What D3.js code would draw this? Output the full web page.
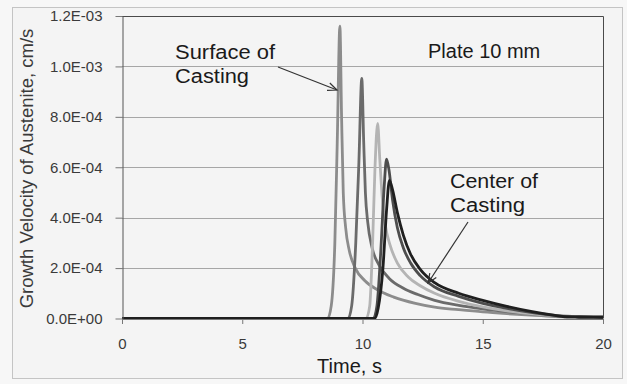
<!DOCTYPE html>
<html>
<head>
<meta charset="utf-8">
<script src="https://cdn.jsdelivr.net/npm/d3@7"></script>
<style>
  html, body { margin: 0; padding: 0; background: #f7f7f7; }
  svg { display: block; font-family: "Liberation Sans", Arial, sans-serif; }
</style>
</head>
<body>
<svg id="chart" width="627" height="384"></svg>
<script>
// ---- data (values in units of 1E-04 cm/s) ----
const yTicks = [0, 2e-4, 4e-4, 6e-4, 8e-4, 1.0e-3, 1.2e-3];
const yTickLabels = ["0.0E+00", "2.0E-04", "4.0E-04", "6.0E-04", "8.0E-04", "1.0E-03", "1.2E-03"];
const xTicks = [0, 5, 10, 15, 20];

const surfaceT = [0, 8.55, 8.7, 8.85, 8.95, 9.06, 9.13, 9.2, 9.3, 9.45, 9.7, 10.1, 10.6, 11.3, 12.2, 13, 14, 15, 16, 17, 18, 19, 20];
const surfaceV = [0, 0, 0.5, 3, 7, 11.6, 8, 5, 3.6, 2.7, 2.0, 1.5, 1.15, 0.85, 0.6, 0.45, 0.35, 0.26, 0.19, 0.13, 0.08, 0.06, 0.05];

const secondT = [0, 9.4, 9.55, 9.72, 9.85, 9.97, 10.05, 10.12, 10.22, 10.4, 10.7, 11.1, 11.7, 12.3, 13, 14, 15, 16, 17, 18, 19, 20];
const secondV = [0, 0, 0.5, 3, 6.2, 9.52, 7, 5, 3.8, 2.8, 2.1, 1.6, 1.2, 0.95, 0.72, 0.52, 0.38, 0.27, 0.18, 0.11, 0.07, 0.05];

const thirdT = [0, 10.15, 10.3, 10.42, 10.52, 10.63, 10.72, 10.82, 10.95, 11.15, 11.45, 11.9, 12.4, 13, 14, 15, 16, 17, 18, 19, 20];
const thirdV = [0, 0, 0.5, 3, 6, 7.74, 6.3, 4.8, 3.7, 2.9, 2.2, 1.65, 1.3, 1.0, 0.68, 0.46, 0.3, 0.19, 0.11, 0.07, 0.05];

const fourthT = [0, 10.45, 10.6, 10.75, 10.9, 11.0, 11.1, 11.25, 11.45, 11.7, 12, 12.4, 13, 14, 15, 16, 17, 18, 18.5, 19, 20];
const fourthV = [0, 0, 0.5, 2.5, 5.2, 6.32, 5.9, 4.7, 3.6, 2.8, 2.2, 1.7, 1.25, 0.88, 0.6, 0.4, 0.24, 0.12, 0.07, 0.06, 0.05];

const centerT = [0, 10.5, 10.65, 10.85, 11.0, 11.12, 11.25, 11.45, 11.7, 12, 12.4, 13, 14, 15, 16, 17, 18, 18.4, 19, 20];
const centerV = [0, 0, 0.4, 2, 4.3, 5.48, 5.1, 4.2, 3.3, 2.55, 1.95, 1.42, 1.0, 0.72, 0.48, 0.28, 0.12, 0.07, 0.06, 0.05];

const seriesList = [
  { name: "Surface of Casting", t: surfaceT, v: surfaceV, color: "#8c8c8c" },
  { name: "Position 2", t: secondT, v: secondV, color: "#6b6b6b" },
  { name: "Position 3", t: thirdT, v: thirdV, color: "#b4b4b4" },
  { name: "Position 4", t: fourthT, v: fourthV, color: "#4d4d4d" },
  { name: "Center of Casting", t: centerT, v: centerV, color: "#1f1f1f" }
];

// ---- layout ----
const svg = d3.select("#chart");
const L = 122, R = 603, T = 16, B = 318.5;

svg.append("rect").attr("x", 12.5).attr("y", 7.5).attr("width", 610).attr("height", 371)
  .attr("fill", "#f4f4f4").attr("stroke", "#c4c4c4").attr("stroke-width", 1);

const x = d3.scaleLinear().domain([0, 20]).range([L, R]);
const y = d3.scaleLinear().domain([0, 1.2e-3]).range([B, T]);

// gridlines
svg.append("g").selectAll("line").data(yTicks.slice(1)).join("line")
  .attr("x1", L).attr("x2", R)
  .attr("y1", d => Math.round(y(d)) + 0.5).attr("y2", d => Math.round(y(d)) + 0.5)
  .attr("stroke", "#a6a6a6").attr("stroke-width", 1);

// plot border top/right
svg.append("path")
  .attr("d", `M${L},${Math.round(T)+0.5}H${R+0.5}V${B}`)
  .attr("fill", "none").attr("stroke", "#4a4a4a").attr("stroke-width", 1);

// curves
const clip = svg.append("clipPath").attr("id", "clip").append("rect")
  .attr("x", L).attr("y", T - 2).attr("width", R - L + 1).attr("height", B - T + 4);

const line = d3.line().x(d => x(d[0])).y(d => y(d[1] * 1e-4)).curve(d3.curveMonotoneX);
svg.append("g").attr("clip-path", "url(#clip)").selectAll("path").data(seriesList).join("path")
  .attr("d", s => line(s.t.map((t, i) => [t, s.v[i]])))
  .attr("fill", "none").attr("stroke", s => s.color).attr("stroke-width", 2.8)
  .attr("stroke-linejoin", "round");

// axes
const yAxis = d3.axisLeft(y).tickValues(yTicks).tickFormat((d, i) => yTickLabels[i])
  .tickSizeInner(7).tickSizeOuter(0).tickPadding(13);
const gy = svg.append("g").attr("transform", `translate(${L + 0.5},0)`).call(yAxis);
gy.select(".domain").attr("stroke", "#555");
gy.selectAll(".tick line").attr("stroke", "#777");
gy.selectAll("text").attr("font-size", 15).attr("fill", "#3a3a3a")
  .attr("font-family", "'Liberation Sans', Arial, sans-serif");

const xAxis = d3.axisBottom(x).tickValues(xTicks).tickSizeInner(5).tickSizeOuter(0).tickPadding(14);
const gx = svg.append("g").attr("transform", `translate(0,${B + 0.5})`).call(xAxis);
gx.select(".domain").attr("stroke", "#777");
gx.selectAll(".tick line").attr("stroke", "#777");
gx.selectAll("text").attr("font-size", 15).attr("fill", "#3a3a3a")
  .attr("font-family", "'Liberation Sans', Arial, sans-serif");

// axis titles
svg.append("text").attr("x", 349.5).attr("y", 373).attr("text-anchor", "middle")
  .attr("font-size", 20).attr("fill", "#1a1a1a").text("Time, s");
svg.append("text").attr("transform", "translate(33,168.5) rotate(-90)").attr("text-anchor", "middle")
  .attr("font-size", 18.5).attr("fill", "#3a3a3a").text("Growth Velocity of Austenite, cm/s");

// annotations
const ann = svg.append("g").attr("font-size", 20).attr("fill", "#1a1a1a");
ann.append("text").attr("x", 428).attr("y", 58).text("Plate 10 mm");
ann.append("text").attr("x", 175).attr("y", 59).attr("textLength", 100).attr("lengthAdjust", "spacingAndGlyphs").text("Surface of");
ann.append("text").attr("x", 175).attr("y", 83).attr("textLength", 74).attr("lengthAdjust", "spacingAndGlyphs").text("Casting");
ann.append("text").attr("x", 450).attr("y", 188).attr("textLength", 88).attr("lengthAdjust", "spacingAndGlyphs").text("Center of");
ann.append("text").attr("x", 450).attr("y", 212).attr("textLength", 75).attr("lengthAdjust", "spacingAndGlyphs").text("Casting");

function arrow(x1, y1, x2, y2) {
  const g = svg.append("g").attr("stroke", "#333").attr("stroke-width", 1.2).attr("fill", "none");
  g.append("line").attr("x1", x1).attr("y1", y1).attr("x2", x2).attr("y2", y2);
  const a = Math.atan2(y2 - y1, x2 - x1), len = 10, sp = 0.4;
  g.append("path").attr("d",
    `M${x2 - len * Math.cos(a - sp)},${y2 - len * Math.sin(a - sp)}L${x2},${y2}L${x2 - len * Math.cos(a + sp)},${y2 - len * Math.sin(a + sp)}`);
}
arrow(278, 67, 337, 90);
arrow(468, 222, 428, 283);
</script>
</body>
</html>
